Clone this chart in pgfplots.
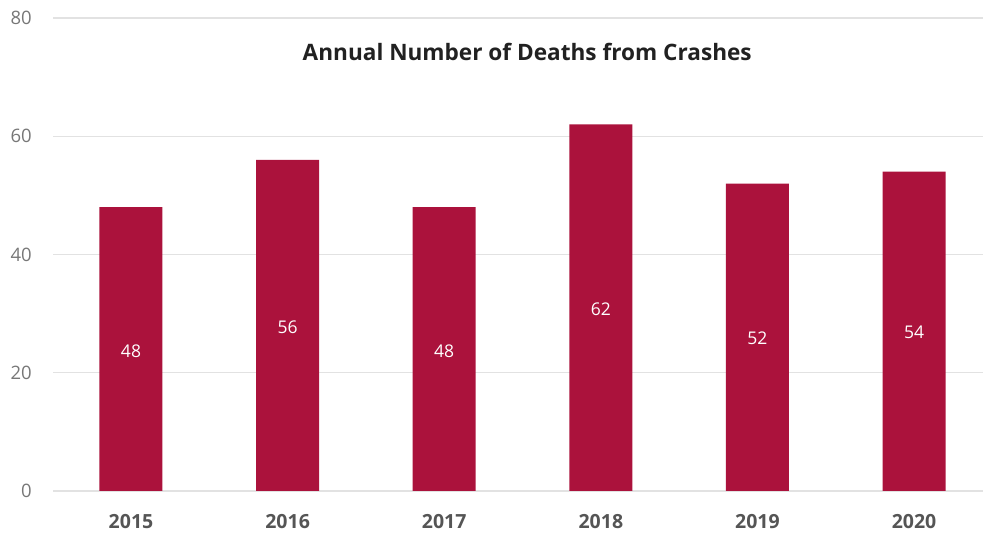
\documentclass[border=0pt]{standalone}
\usepackage{pgfplots}
\pgfplotsset{compat=1.18}
\usepackage{fontspec}
\setmainfont{Open Sans}
\definecolor{barred}{HTML}{AB123C}
\definecolor{gridc}{HTML}{E2E2E2}
\definecolor{ytc}{HTML}{777777}
\definecolor{xtc}{HTML}{555555}
\begin{document}
\begin{tikzpicture}
\begin{axis}[
  scale only axis,
  width=930pt, height=473pt,
  xmin=-0.498, xmax=5.44,
  ymin=0, ymax=80,
  ytick={0,20,40,60,80},
  xtick={0,1,2,3,4,5},
  xticklabels={2015,2016,2017,2018,2019,2020},
  ymajorgrids, grid style={gridc, line width=1.2pt},
  axis line style={draw=none},
  major tick length=0pt,
  /pgf/number format/assume math mode=true,
  yticklabel style={font=\fontsize{18.5}{20}\selectfont, text=ytc, anchor=east, inner sep=0pt, xshift=-21pt},
  xticklabel style={font=\fontsize{19.5}{21}\selectfont\bfseries, text=xtc, anchor=center, inner sep=0pt, yshift=-31pt},
  clip=false,
]
\addplot[ybar, bar width=63pt, bar shift=0pt, fill=barred, draw=none] coordinates {
  (0,48) (1,56) (2,48) (3,62) (4,52) (5,54)
};
\addplot[only marks, mark=none, nodes near coords, point meta=explicit symbolic,
  every node near coord/.style={anchor=center, text=white, font=\fontsize{17.5}{19}\selectfont}]
  table[meta=label] {
x y label
0 23.7 48
1 27.7 56
2 23.7 48
3 30.8 62
4 25.8 52
5 26.8 54
};
\node[font=\fontsize{22.6}{24}\selectfont\bfseries, text=black!87] at (axis cs:2.53,74.2) {Annual Number of Deaths from Crashes};
\end{axis}
\pgfresetboundingbox
\path ([xshift=-53pt,yshift=-43pt]current axis.south west) rectangle ([yshift=18pt]current axis.north east);
\end{tikzpicture}
\end{document}
